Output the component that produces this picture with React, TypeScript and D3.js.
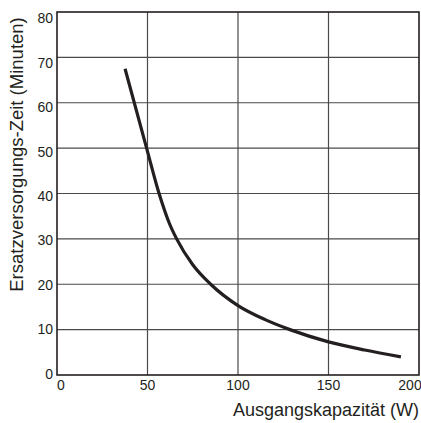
import React from "react";
import * as d3 from "d3";

const xTicks = [0, 50, 100, 150, 200];
const yTicks = [0, 10, 20, 30, 40, 50, 60, 70, 80];
const capacityW = [37.6, 49.5, 56.4, 62, 66.1, 75, 84.9, 100, 115, 128.7, 150, 170, 190];
const backupMin = [67.5, 50, 40, 33.5, 30, 24.3, 20, 15.3, 12.2, 10, 7.3, 5.5, 4.0];
const xTitle = "Ausgangskapazität (W)";
const yTitle = "Ersatzversorgungs-Zeit (Minuten)";

export default function App() {
  const W = 421, H = 423;
  const left = 57, right = 419, top = 12, bottom = 375;
  const x = d3.scaleLinear().domain([0, 200]).range([left, right]);
  const y = d3.scaleLinear().domain([0, 80]).range([bottom, top]);
  const pts = capacityW.map((c, i) => [c, backupMin[i]] as [number, number]);
  const line = d3.line<[number, number]>().x(d => x(d[0])).y(d => y(d[1])).curve(d3.curveMonotoneX);
  const ink = "#231f20";
  const font = "'Liberation Sans', Arial, sans-serif";
  return (
    <svg width={W} height={H} style={{ position: "absolute", left: 0, top: 0, background: "#fff" }} fontFamily={font}>
      <rect x={0} y={0} width={W} height={H} fill="#fff" />
      {xTicks.slice(1, -1).map(t => (
        <line key={"gx" + t} x1={x(t)} x2={x(t)} y1={top} y2={bottom} stroke="#4a4a4a" strokeWidth={1.2} />
      ))}
      {yTicks.slice(1, -1).map(t => (
        <line key={"gy" + t} x1={left} x2={right} y1={y(t)} y2={y(t)} stroke="#4a4a4a" strokeWidth={1.2} />
      ))}
      <rect x={left} y={top} width={right - left} height={bottom - top} fill="none" stroke={ink} strokeWidth={1.6} />
      <path d={line(pts) || ""} fill="none" stroke={ink} strokeWidth={3.2} strokeLinecap="butt" strokeLinejoin="round" />
      {yTicks.map(t => (
        <text key={"ty" + t} x={53} y={y(t) + t * 0.09 - 1} dy="0.35em" textAnchor="end" fontSize={14} fill={ink}>{t}</text>
      ))}
      {xTicks.map((t, i) => (
        <text key={"tx" + t} x={x(t) + (i === 0 ? 4 : i === xTicks.length - 1 ? -9 : 0)} y={390} textAnchor="middle" fontSize={14} fill={ink}>{t}</text>
      ))}
      <text x={419} y={416} textAnchor="end" fontSize={18} fill={ink}>{xTitle}</text>
      <text transform={`translate(23, 154.5) rotate(-90)`} textAnchor="middle" fontSize={18.5} fill={ink}>{yTitle}</text>
    </svg>
  );
}
